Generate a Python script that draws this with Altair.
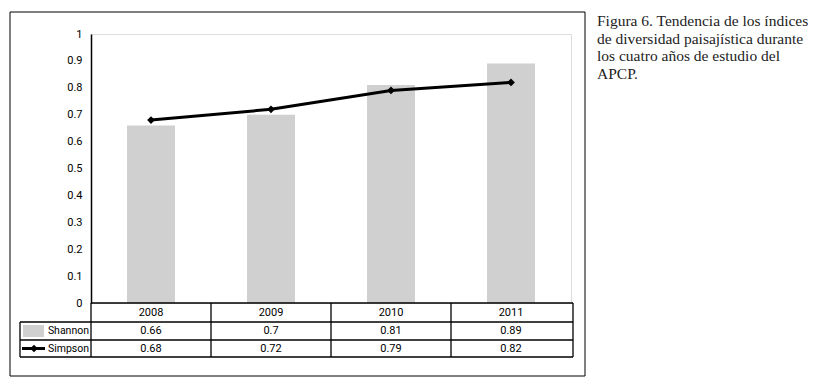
import altair as alt
import pandas as pd

years = ["2008", "2009", "2010", "2011"]
shannon = [0.66, 0.70, 0.81, 0.89]
simpson = [0.68, 0.72, 0.79, 0.82]
y_ticks = [0, 0.1, 0.2, 0.3, 0.4, 0.5, 0.6, 0.7, 0.8, 0.9, 1]
caption = "Figura 6. Tendencia de los índices\nde diversidad paisajística durante\nlos cuatro años de estudio del\nAPCP."

df = pd.DataFrame({"year": years, "Shannon": shannon, "Simpson": simpson})
df["ShannonTxt"] = [f"{v:g}" for v in shannon]
df["SimpsonTxt"] = [f"{v:g}" for v in simpson]

SANS = "Roboto"
BAR = "#d0d0d0"

x = alt.X("year:N", title=None, axis=None,
          scale=alt.Scale(paddingInner=0, paddingOuter=0))
base = alt.Chart(df)

bars = base.mark_bar(color=BAR, width=48).encode(
    x=x,
    y=alt.Y("Shannon:Q", title=None, scale=alt.Scale(domain=[0, 1], nice=False),
            axis=alt.Axis(values=y_ticks, format="~g", ticks=False, grid=False,
                          labelOverlap=False, tickCount=11,
                          domainColor="black", domainWidth=1.5, labelColor="black",
                          labelFont=SANS, labelFontSize=11, labelPadding=9)),
)
line = base.mark_line(color="black", strokeWidth=3).encode(x=x, y="Simpson:Q")
pts = base.mark_point(shape="diamond", filled=True, color="black", size=60, opacity=1).encode(
    x=x, y="Simpson:Q")

# table text
T_TOP, R1, R2, R3 = 269, 288, 306, 323
txt_kw = dict(font=SANS, fontSize=11, color="black", baseline="middle", clip=False)
t_year = base.mark_text(**txt_kw).encode(x=x, y=alt.value((T_TOP + R1) / 2), text="year:N")
t_sh = base.mark_text(**txt_kw).encode(x=x, y=alt.value((R1 + R2) / 2), text="ShannonTxt:N")
t_si = base.mark_text(**txt_kw).encode(x=x, y=alt.value((R2 + R3) / 2), text="SimpsonTxt:N")

one = alt.Chart(pd.DataFrame({"a": [0]}))
row_lbl = []
lbl_kw = dict(font=SANS, fontSize=10.5, color="black", align="right",
              baseline="middle", clip=False)
row_lbl.append(one.mark_text(**lbl_kw).encode(
    x=alt.value(-2), y=alt.value((R1 + R2) / 2), text=alt.value("Shannon")))
row_lbl.append(one.mark_text(**lbl_kw).encode(
    x=alt.value(-2), y=alt.value((R2 + R3) / 2), text=alt.value("Simpson")))
# legend symbols
row_lbl.append(one.mark_rect(color=BAR, clip=False).encode(
    x=alt.value(-68), x2=alt.value(-47), y=alt.value(R1 + 3), y2=alt.value(R2 - 3)))
row_lbl.append(one.mark_rule(color="black", strokeWidth=3, clip=False).encode(
    x=alt.value(-69), x2=alt.value(-46), y=alt.value((R2 + R3) / 2)))
row_lbl.append(one.mark_point(shape="diamond", filled=True, color="black", size=60,
                              opacity=1, clip=False).encode(
    x=alt.value(-57), y=alt.value((R2 + R3) / 2)))

# table grid
L, R = -71, 482
grid = []
def hline(y, x1, x2):
    return one.mark_rule(color="black", strokeWidth=1.3, clip=False).encode(
        x=alt.value(x1), x2=alt.value(x2), y=alt.value(y))
def vline(xv, y1, y2):
    return one.mark_rule(color="black", strokeWidth=1.3, clip=False).encode(
        x=alt.value(xv), y=alt.value(y1), y2=alt.value(y2))
grid += [hline(T_TOP, 0, R), hline(R1, L, R), hline(R2, L, R), hline(R3, L, R)]
grid += [vline(L, R1, R3)]
for xv in [0, 120, 240, 360, R]:
    grid.append(vline(xv, T_TOP, R3))

frame = one.mark_rect(fill=None, stroke="black", strokeWidth=1, clip=False).encode(
    x=alt.value(-81), x2=alt.value(494), y=alt.value(-22), y2=alt.value(342))

cap = one.mark_text(font="Liberation Serif", fontSize=15.5, color="#222", align="left",
                    baseline="alphabetic", lineBreak="\n", lineHeight=17.5, clip=False).encode(
    x=alt.value(506), y=alt.value(-8), text=alt.value(caption))

chart = alt.layer(frame, bars, line, pts, t_year, t_sh, t_si, *row_lbl, *grid, cap).properties(
    width=480, height=269, padding={"top": 3, "left": 1, "right": 0, "bottom": 0}
).configure_view(stroke=None).configure(background="white")

chart.save("out.html", embed_options={"renderer": "svg", "actions": False})
